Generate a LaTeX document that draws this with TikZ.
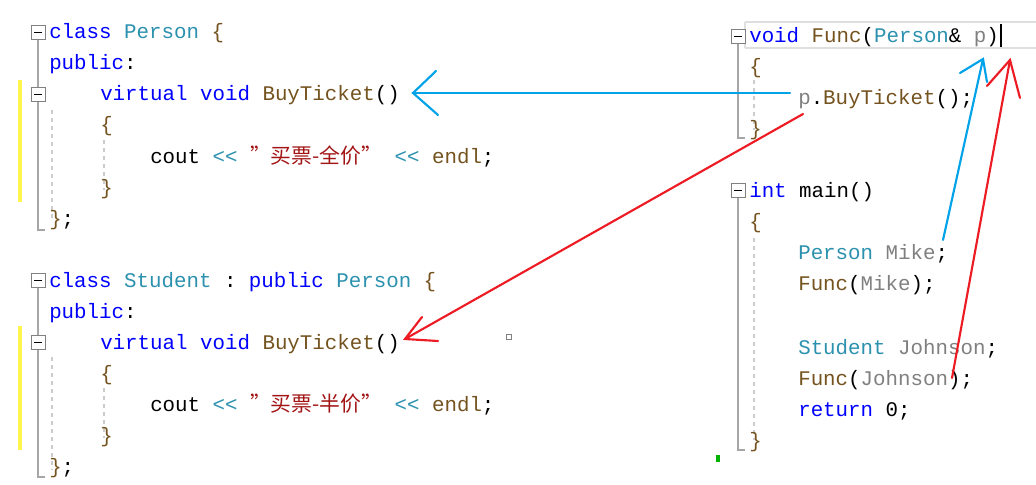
\documentclass[tikz,border=0pt]{standalone}
\usepackage{fontspec}
\setmonofont{Liberation Mono}
\newfontfamily\cjk{Noto Sans CJK SC}
\definecolor{kw}{RGB}{0,0,255}
\definecolor{cls}{RGB}{43,145,175}
\definecolor{fn}{RGB}{116,83,31}
\definecolor{str}{RGB}{163,21,21}
\definecolor{gr}{RGB}{128,128,128}
\definecolor{arrb}{RGB}{0,162,232}
\definecolor{arrr}{RGB}{237,28,36}
\newcommand{\Kw}[1]{\textcolor{kw}{#1}}
\newcommand{\Cl}[1]{\textcolor{cls}{#1}}
\newcommand{\Fn}[1]{\textcolor{fn}{#1}}
\newcommand{\Gr}[1]{\textcolor{gr}{#1}}
\newcommand{\St}[1]{\textcolor{str}{#1}}
\begin{document}
\begin{tikzpicture}[x=0.75pt,y=-0.75pt,
  code/.style={anchor=base west,inner sep=0pt,font=\ttfamily\fontsize{15.6}{18}\selectfont,text=black},
  fold/.style={draw=gr,fill=white,minimum size=10.5pt,inner sep=0pt},
  guide/.style={draw=gr!70,line width=0.8pt},
  dashln/.style={draw=gray!40,dashed,line width=0.8pt},
  bl/.style={draw=arrb,line width=1.6pt,line cap=round},
  rd/.style={draw=arrr,line width=1.6pt,line cap=round}]
\useasboundingbox (0,0) rectangle (1036,485);
\fill[white] (0,0) rectangle (1036,485);
% gutters
\fill[yellow!70] (18,80) rectangle (22,202);
\fill[yellow!70] (18,326) rectangle (22,450);
\fill[green!70!black] (716,455) rectangle (720,462);
\draw[gr,line width=0.6pt] (506,334) rectangle (511,339);
% highlight line
\draw[gray!25,line width=1.2pt] (745,22) -- (1036,22) (745,48) -- (1036,48) (745,22) -- (745,48);
\draw[black,line width=1.2pt] (1001,24) -- (1001,47);
% fold structure
\draw[guide] (38,40) -- (38,230) -- (45,230);
\draw[guide] (38,288) -- (38,477) -- (45,477);
\draw[guide] (738,43) -- (738,138) -- (745,138);
\draw[guide] (738,198) -- (738,450) -- (745,450);
\draw[dashln] (52,110) -- (52,222);
\draw[dashln] (104,140) -- (104,190);
\draw[dashln] (52,357) -- (52,470);
\draw[dashln] (104,388) -- (104,438);
\draw[dashln] (754,80) -- (754,130);
\draw[dashln] (754,238) -- (754,440);
\node[fold] (f1) at (38,32) {}; \draw[black] (34,32) -- (42,32);
\node[fold] (f2) at (38,94) {}; \draw[black] (34,94) -- (42,94);
\node[fold] (f3) at (38,280) {}; \draw[black] (34,280) -- (42,280);
\node[fold] (f4) at (38,342) {}; \draw[black] (34,342) -- (42,342);
\node[fold] (f5) at (738,36) {}; \draw[black] (734,36) -- (742,36);
\node[fold] (f6) at (738,190) {}; \draw[black] (734,190) -- (742,190);
% left code
\node[code] (l1) at (49,39) {\Kw{class} \Cl{Person} \Fn{\{}};
\node[code] (l2) at (49,70) {\Kw{public}:};
\node[code] (l3) at (100,101) {\Kw{virtual} \Kw{void} \Fn{BuyTicket}()};
\node[code] (l4) at (100,132) {\Fn{\{}};
\node[code] (l5) at (150,163) {cout \Cl{<<} \St{{\cjk ”买票-全价”}} \Cl{<<} \Fn{endl};};
\node[code] (l6) at (100,194) {\Fn{\}}};
\node[code] (l7) at (49,225) {\Fn{\}};};
\node[code] (m1) at (49,287) {\Kw{class} \Cl{Student} : \Kw{public} \Cl{Person} \Fn{\{}};
\node[code] (m2) at (49,318) {\Kw{public}:};
\node[code] (m3) at (100,349) {\Kw{virtual} \Kw{void} \Fn{BuyTicket}()};
\node[code] (m4) at (100,380) {\Fn{\{}};
\node[code] (m5) at (150,411) {cout \Cl{<<} \St{{\cjk ”买票-半价”}} \Cl{<<} \Fn{endl};};
\node[code] (m6) at (100,442) {\Fn{\}}};
\node[code] (m7) at (49,473) {\Fn{\}};};
% right code
\node[code] (r1) at (749,43) {\Kw{void} \Fn{Func}(\Cl{Person}\& \Gr{p})};
\node[code] (r2) at (749,74) {\Fn{\{}};
\node[code] (r3) at (798,105) {\Gr{p}.\Fn{BuyTicket}();};
\node[code] (r4) at (749,136) {\Fn{\}}};
\node[code] (s1) at (749,197) {\Kw{int} main()};
\node[code] (s2) at (749,228) {\Fn{\{}};
\node[code] (s3) at (798,259) {\Cl{Person} \Gr{Mike};};
\node[code] (s4) at (798,290) {\Fn{Func}(\Gr{Mike});};
\node[code] (s5) at (798,354) {\Cl{Student} \Gr{Johnson};};
\node[code] (s6) at (798,385) {\Fn{Func}(\Gr{Johnson});};
\node[code] (s7) at (798,416) {\Kw{return} 0;};
\node[code] (s8) at (749,447) {\Fn{\}}};
% arrows
\coordinate (bt) at (413,93);
\coordinate (bs) at (790,93);
\draw[bl] (bs) -- (bt);
\draw[bl] (436,71) -- (bt) -- (438,115);
\coordinate (bt2) at (983,59);
\coordinate (bs2) at (943,240);
\draw[bl] (bs2) -- (bt2);
\draw[bl] (960,73) -- (bt2) -- (987,82);
\coordinate (rt) at (405,339);
\coordinate (rs) at (803,114);
\draw[rd] (rs) -- (rt);
\draw[rd] (422,317) -- (rt) -- (438,341);
\coordinate (rt2) at (1010,60);
\coordinate (rs2) at (952,378);
\draw[rd] (rs2) -- (rt2);
\draw[rd] (987,86) -- (rt2) -- (1020,98);
\end{tikzpicture}
\end{document}
